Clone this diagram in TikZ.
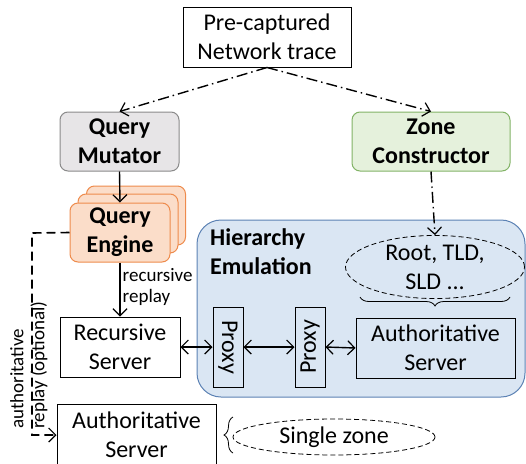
\documentclass[tikz,border=0pt]{standalone}
\usepackage{fontspec}
\setmainfont{Carlito}
\usetikzlibrary{arrows.meta,decorations.pathreplacing,shapes.geometric}
\definecolor{qmfill}{HTML}{E7E5E7}
\definecolor{qmdraw}{HTML}{8A8A8A}
\definecolor{zcfill}{HTML}{E5F1DC}
\definecolor{zcdraw}{HTML}{82B366}
\definecolor{qefill}{HTML}{FBDDC9}
\definecolor{qedraw}{HTML}{EE8B4C}
\definecolor{hefill}{HTML}{DAE6F3}
\definecolor{hedraw}{HTML}{5C82B4}
\tikzset{
  x=1pt, y=-1pt,
  txt/.style={font=\fontsize{24}{29}\selectfont, align=center},
  plainbox/.style={txt, draw=black, line width=1pt, inner sep=0pt},
  modbox/.style={txt, font=\fontsize{24}{29}\selectfont\bfseries, rounded corners=8pt, line width=1pt, inner sep=0pt},
  dashdot/.style={line width=1.4pt, dash pattern=on 11pt off 4pt on 1.5pt off 4pt},
  tip/.style={-{Straight Barb[length=7pt,width=14pt,line width=1.2pt]}},
  dtip/.style={{Straight Barb[length=7pt,width=14pt,line width=1.2pt]}-{Straight Barb[length=7pt,width=14pt,line width=1.2pt]}},
  solidarrow/.style={line width=1.4pt},
  ell/.style={ellipse, draw=black, dash pattern=on 5pt off 3pt, line width=0.8pt, inner sep=0pt, txt},
  bracedec/.style={decorate, decoration={brace, amplitude=9pt}, line width=0.8pt},
}
\begin{document}
\begin{tikzpicture}
\useasboundingbox (0,0) rectangle (526,463);
% top trace
\node[plainbox, minimum width=168pt, minimum height=60pt] (pre) at (267,37) {Pre-captured\\Network trace};
% modules
\node[modbox, fill=qmfill, draw=qmdraw, minimum width=119pt, minimum height=59pt] (qm) at (119.5,141.5) {Query\\Mutator};
\node[modbox, fill=zcfill, draw=zcdraw, minimum width=158pt, minimum height=59pt] (zc) at (431,141.5) {Zone\\Constructor};
% query engine stack
\node[modbox, fill=qefill, draw=qedraw, minimum width=99pt, minimum height=59pt] (qe3) at (136,215.5) {};
\node[modbox, fill=qefill, draw=qedraw, minimum width=100pt, minimum height=59pt] (qe2) at (128,223.5) {};
\node[modbox, fill=qefill, draw=qedraw, minimum width=100pt, minimum height=59pt] (qe) at (120,232.5) {Query\\Engine};
% hierarchy emulation
\node[fill=hefill, draw=hedraw, line width=1pt, rounded corners=24pt, minimum width=328pt, minimum height=177pt, inner sep=0pt] (he) at (361,308.5) {};
\node[txt, font=\fontsize{24}{29}\selectfont\bfseries, align=left, anchor=north west, inner sep=0pt] (het) at (210,228) {Hierarchy\\Emulation};
% servers
\node[plainbox, minimum width=120pt, minimum height=60pt] (rs) at (120,347) {Recursive\\Server};
\node[plainbox, minimum width=30pt, minimum height=80pt] (p1) at (228,347) {};
\node[txt, rotate=-90, inner sep=0pt] (p1t) at (p1.center) {Proxy};
\node[plainbox, minimum width=30pt, minimum height=80pt] (p2) at (310,347) {};
\node[txt, rotate=90, inner sep=0pt] (p2t) at (p2.center) {Proxy};
\node[plainbox, minimum width=159pt, minimum height=60pt] (as) at (435.5,348) {Authoritative\\Server};
\node[ell, minimum width=179pt, minimum height=57pt] (zones) at (435,267) {Root, TLD,\\SLD ...};
\coordinate (bl) at (360,297);
\coordinate (br) at (510,297);
\draw[bracedec] (br) -- (bl);
% bottom authoritative
\node[plainbox, minimum width=159pt, minimum height=62pt] (asb) at (136.5,435) {Authoritative\\Server};
\node[ell, minimum width=202pt, minimum height=36pt] (single) at (334,437) {Single zone};
\coordinate (sb) at (233,453);
\coordinate (st) at (233,417);
\draw[bracedec] (sb) -- (st);
% connectors
\draw[dashdot, tip] (pre.south) -- (qm.north);
\draw[dashdot, tip] (pre.south) -- (zc.north);
\draw[dashdot, tip] (zc.south) -- (zones.north);
\draw[solidarrow, tip] (qm.south) -- (qe.north);
\draw[solidarrow, tip] (qe.south) -- node[right, font=\fontsize{19}{21}\selectfont, align=left, inner sep=2pt, pos=0.45] (rr) {recursive\\replay} (rs.north);
\draw[solidarrow, dtip] (rs.east) -- (p1.west);
\draw[solidarrow, dtip] (p1.east) -- (p2.west);
\draw[solidarrow, dtip] (p2.east) -- (as.west);
\coordinate (c1) at (32,233);
\coordinate (c2) at (32,435);
\draw[line width=1.6pt, dash pattern=on 9pt off 5pt, tip] (qe.west) -- (c1) -- (c2) -- (asb.west);
\node[rotate=90, anchor=north west, align=left, inner sep=0pt, font=\fontsize{19}{21}\selectfont] (arl) at (10,429) {authoritative\\replay (optional)};
\end{tikzpicture}
\end{document}
